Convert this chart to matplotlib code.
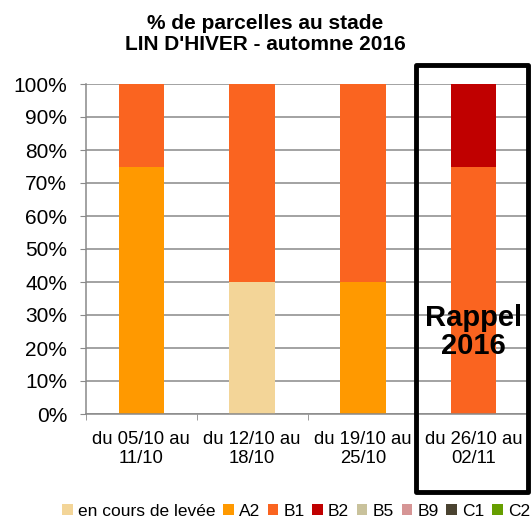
import numpy as np
import matplotlib.pyplot as plt
from matplotlib.patches import Rectangle

plt.rcParams['font.family'] = ['Liberation Sans', 'DejaVu Sans']

categories = ['du 05/10 au\n11/10', 'du 12/10 au\n18/10', 'du 19/10 au\n25/10', 'du 26/10 au\n02/11']
stages = ['en cours de levée', 'A2', 'B1', 'B2', 'B5', 'B9', 'C1', 'C2']
colors = ['#F3D598', '#FF9900', '#FA6420', '#C00000', '#C9C29C', '#D69595', '#4A4330', '#669E00']
values = {
    'en cours de levée': [0, 40, 0, 0],
    'A2': [75, 0, 40, 0],
    'B1': [25, 60, 60, 75],
    'B2': [0, 0, 0, 25],
    'B5': [0, 0, 0, 0],
    'B9': [0, 0, 0, 0],
    'C1': [0, 0, 0, 0],
    'C2': [0, 0, 0, 0],
}

fig = plt.figure(figsize=(5.31, 5.19), dpi=100)
ax = fig.add_axes([86/531, 1 - 414/519, 443/531, 330/519])

x = np.arange(len(categories))
bottom = np.zeros(len(categories))
for s, c in zip(stages, colors):
    v = np.array(values[s], dtype=float)
    ax.bar(x, v, 0.41, bottom=bottom, color=c, label=s, zorder=2)
    bottom += v

ax.set_xlim(-0.5, 3.5)
ax.set_ylim(0, 100)
ax.set_yticks(np.arange(0, 101, 10))
ax.set_yticklabels([f'{t}%' for t in range(0, 101, 10)], fontsize=15)
ax.tick_params(axis='y', length=4.5, pad=9, color='#898989')
ax.set_xticks(x)
ax.set_xticklabels(categories, fontsize=13.3)
ax.tick_params(axis='x', which='major', length=0, pad=12)
ax.set_xticks(np.arange(-0.5, 3.6, 1), minor=True)
ax.tick_params(axis='x', which='minor', length=4.5, color='#898989')
ax.grid(axis='y', color='#898989', linewidth=1.1, zorder=0)
for sp in ['top', 'right']:
    ax.spines[sp].set_visible(False)
ax.spines['left'].set_color('#898989')
ax.spines['bottom'].set_color('#898989')
ax.spines['left'].set_linewidth(1.1)
ax.spines['bottom'].set_linewidth(1.1)

fig.text(0.5, 1 - 34/519, '% de parcelles au stade\nLIN D\'HIVER - automne 2016',
         ha='center', va='center', fontsize=15, fontweight='bold', linespacing=1.1)

ax.text(3, 25, 'Rappel\n2016', ha='center', va='center', fontsize=21,
        fontweight='bold', zorder=3, linespacing=1.0)

fig.patches.append(Rectangle((416/531, 1 - 492/519), 112/531, 427/519,
                             transform=fig.transFigure, fill=False,
                             edgecolor='black', linewidth=3.5, joinstyle='round'))

fig.legend(loc='center', bbox_to_anchor=(296/531, 1 - 511/519), ncol=8,
           frameon=False, fontsize=12.5, handlelength=0.6, handleheight=0.6,
           handletextpad=0.3, columnspacing=0.45, borderpad=0, borderaxespad=0)

fig.savefig('out.png', dpi=100)
